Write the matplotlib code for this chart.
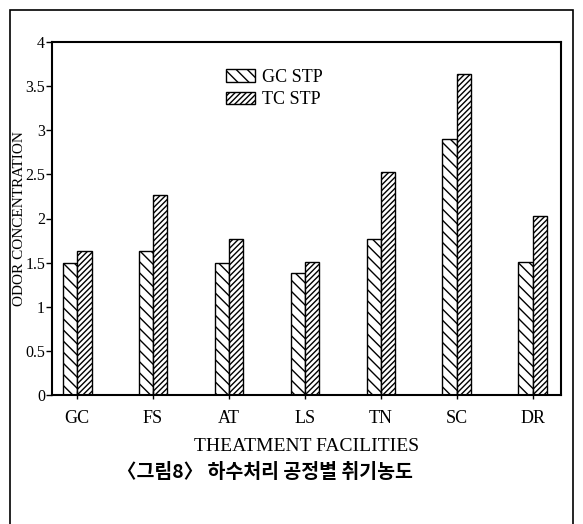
import matplotlib
matplotlib.use("Agg")
import matplotlib.pyplot as plt
import numpy as np
from matplotlib.patches import Rectangle

categories = ["GC", "FS", "AT", "LS", "TN", "SC", "DR"]
gc_stp = [1.50, 1.63, 1.50, 1.38, 1.77, 2.90, 1.51]
tc_stp = [1.63, 2.27, 1.77, 1.51, 2.53, 3.64, 2.03]
series_names = ["GC STP", "TC STP"]
yticks = [0, 0.5, 1, 1.5, 2, 2.5, 3, 3.5, 4]
ytick_labels = ["0", "0.5", "1", "1.5", "2", "2.5", "3", "3.5", "4"]

plt.rcParams['hatch.linewidth'] = 1.0
serif = ["Liberation Serif", "DejaVu Serif"]

fig = plt.figure(figsize=(5.83, 5.24), dpi=100)
fig.patch.set_facecolor("white")
# outer frame
fig.patches.append(Rectangle((10/583, -0.01), (573-10)/583, (519)/524, transform=fig.transFigure,
                             fill=False, edgecolor="black", linewidth=1.2))

ax = fig.add_axes([52/583, (524-395)/524, (561-52)/583, (395-42)/524])
x = np.arange(len(categories))
w = 0.19
ax.bar(x - w/2, gc_stp, width=w, facecolor="white", edgecolor="black", hatch="\\\\\\", linewidth=1.0, label=series_names[0])
ax.bar(x + w/2, tc_stp, width=w, facecolor="white", edgecolor="black", hatch="//////", linewidth=1.0, label=series_names[1])

ax.set_xlim(-0.33, 6.37)
ax.set_ylim(0, 4)
ax.set_yticks(yticks)
ax.set_yticklabels(ytick_labels, fontfamily=serif, fontsize=11.5)
ax.set_xticks(x)
ax.set_xticklabels(categories, fontfamily=serif, fontsize=13)
ax.tick_params(axis="y", direction="out", length=4, width=1, pad=1)
ax.tick_params(axis="x", direction="inout", length=6, width=1, pad=8)
for s in ax.spines.values():
    s.set_linewidth(1.5)

ax.set_ylabel("ODOR CONCENTRATION", fontfamily=serif, fontsize=11)
ax.yaxis.set_label_coords(-26/509, 0.5)
ax.set_xlabel("THEATMENT FACILITIES", fontfamily=serif, fontsize=14, labelpad=8)

leg = ax.legend(loc="upper left", bbox_to_anchor=(0.31, 0.97), frameon=False,
                prop={"family": serif, "size": 13}, handlelength=1.6, handleheight=0.7,
                handletextpad=0.4, labelspacing=0.3)

fig.text(265/583, 1 - 472/524, "〈그림8〉 하수처리 공정별 취기농도", ha="center", va="center",
         fontsize=14, fontweight="bold", family=["Noto Sans CJK KR", "DejaVu Sans"])

fig.savefig("out.png", dpi=100)
